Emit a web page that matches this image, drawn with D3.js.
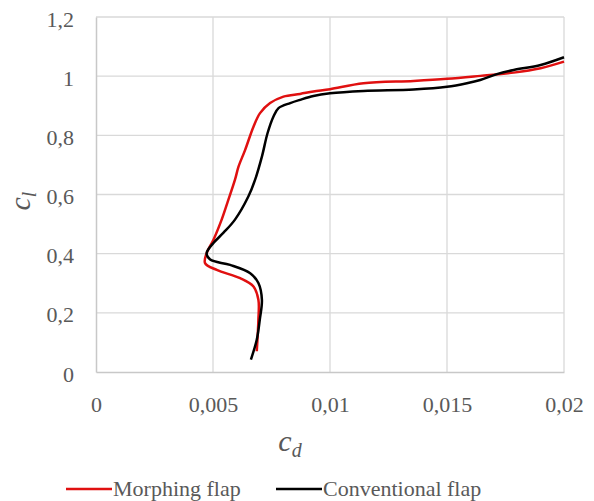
<!DOCTYPE html>
<html>
<head>
<meta charset="utf-8">
<script src="https://cdn.jsdelivr.net/npm/d3@7"></script>
<style>
    body { margin: 0; background: #fff; }
    svg { display: block; }
</style>
</head>
<body>
<svg id="Chart"></svg>
<script>
    // values, [cd, cl] along each polar
    let morphingFlap = [
        [0.00687, 0.070], [0.00694, 0.177], [0.00694, 0.244], [0.00673, 0.289],
        [0.00616, 0.317], [0.00516, 0.345], [0.00466, 0.368], [0.00473, 0.402],
        [0.00502, 0.447], [0.00537, 0.515], [0.00561, 0.571], [0.00594, 0.650],
        [0.00609, 0.694], [0.00637, 0.750], [0.00673, 0.829], [0.00701, 0.875],
        [0.00744, 0.909], [0.00801, 0.931], [0.00872, 0.940], [0.00929, 0.948],
        [0.01000, 0.956], [0.01143, 0.976], [0.01357, 0.984], [0.01500, 0.991],
        [0.01642, 1.001], [0.01785, 1.012], [0.01900, 1.027], [0.02000, 1.049]
    ];
    let conventionalFlap = [
        [0.00662, 0.042], [0.00687, 0.109], [0.00700, 0.177], [0.00709, 0.244],
        [0.00694, 0.301], [0.00659, 0.334], [0.00573, 0.362], [0.00488, 0.380],
        [0.00473, 0.402], [0.00502, 0.436], [0.00544, 0.470], [0.00594, 0.515],
        [0.00651, 0.593], [0.00680, 0.650], [0.00709, 0.728], [0.00733, 0.807],
        [0.00758, 0.863], [0.00780, 0.892], [0.00830, 0.909], [0.00872, 0.920],
        [0.00929, 0.933], [0.01000, 0.942], [0.01143, 0.950], [0.01357, 0.955],
        [0.01500, 0.964], [0.01585, 0.976], [0.01642, 0.987], [0.01713, 1.007],
        [0.01785, 1.021], [0.01900, 1.038], [0.02000, 1.064]
    ];
    let seriesNames = ["Morphing flap", "Conventional flap"];
    let seriesColors = ["#e01010", "#000000"];
    let xTicks = [0, 0.005, 0.01, 0.015, 0.02];
    let yTicks = [0, 0.2, 0.4, 0.6, 0.8, 1, 1.2];

    function getConfig() {
        let width = 594;
        let height = 501;
        let margin = { top: 17, left: 96, right: 30, bottom: 129 };
        let bodyWidth = width - margin.left - margin.right;
        let bodyHeight = height - margin.top - margin.bottom;
        let container = d3.select("#Chart")
            .attr("width", width)
            .attr("height", height);
        return { width, height, margin, bodyWidth, bodyHeight, container };
    }

    function getScales(config) {
        let xScale = d3.scaleLinear().domain([0, 0.02]).range([0, config.bodyWidth]);
        let yScale = d3.scaleLinear().domain([0, 1.2]).range([config.bodyHeight, 0]);
        return { xScale, yScale };
    }

    // decimal comma like the original
    let fmt = d => String(d).replace(".", ",");
    let serif = "Liberation Serif";

    function drawGrid(scales, config) {
        let { xScale, yScale } = scales;
        let { margin, container, bodyWidth, bodyHeight } = config;
        let body = container.append("g")
            .attr("transform", `translate(${margin.left},${margin.top})`);

        body.selectAll(".vgrid").data(xTicks.slice(1)).enter()
            .append("line")
            .attr("x1", d => xScale(d)).attr("x2", d => xScale(d))
            .attr("y1", 0).attr("y2", bodyHeight)
            .attr("stroke", "#d9d9d9").attr("stroke-width", 1.3);
        body.selectAll(".hgrid").data(yTicks.slice(1)).enter()
            .append("line")
            .attr("x1", 0).attr("x2", bodyWidth)
            .attr("y1", d => yScale(d)).attr("y2", d => yScale(d))
            .attr("stroke", "#d9d9d9").attr("stroke-width", 1.3);

        let axisX = d3.axisBottom(xScale).tickValues(xTicks).tickFormat(fmt).tickSize(0).tickPadding(24);
        let gx = container.append("g")
            .attr("transform", `translate(${margin.left},${margin.top + bodyHeight})`)
            .call(axisX);
        let axisY = d3.axisLeft(yScale).tickValues(yTicks).tickFormat(fmt).tickSize(0).tickPadding(22);
        let gy = container.append("g")
            .attr("transform", `translate(${margin.left},${margin.top + 2})`)
            .call(axisY);
        gy.select(".domain").attr("transform", "translate(0,-2)");

        [gx, gy].forEach(g => {
            g.attr("font-family", serif).attr("font-size", 22);
            g.select(".domain").attr("stroke", "#c8c8c8").attr("stroke-width", 1.5);
            g.selectAll("text").attr("fill", "#595959");
        });
        return body;
    }

    function drawLines(body, scales) {
        let { xScale, yScale } = scales;
        let line = d3.line()
            .x(d => xScale(d[0]))
            .y(d => yScale(d[1]))
            .curve(d3.curveCatmullRom.alpha(0.5));
        [morphingFlap, conventionalFlap].forEach((data, i) => {
            body.append("path")
                .datum(data)
                .attr("d", line)
                .attr("fill", "none")
                .attr("stroke", seriesColors[i])
                .attr("stroke-width", 2.5)
                .attr("stroke-linejoin", "round");
        });
    }

    function drawLabels(config) {
        let { container } = config;

        let yl = container.append("text")
            .attr("transform", "translate(30,201) rotate(-90)")
            .attr("text-anchor", "middle")
            .attr("fill", "#595959")
            .attr("font-family", serif)
            .attr("font-style", "italic")
            .attr("font-size", 30);
        yl.append("tspan").text("c");
        yl.append("tspan").attr("dy", 6).attr("font-size", 20).text("l");

        let xl = container.append("text")
            .attr("x", 290).attr("y", 451)
            .attr("text-anchor", "middle")
            .attr("fill", "#595959")
            .attr("font-family", serif)
            .attr("font-style", "italic")
            .attr("font-size", 30);
        xl.append("tspan").text("c");
        xl.append("tspan").attr("dy", 6).attr("font-size", 20).text("d");

        let legendX = [66, 276];
        let legend = container.selectAll(".legend").data(seriesNames).enter()
            .append("g")
            .attr("transform", (d, i) => `translate(${legendX[i]},489)`);
        legend.append("line")
            .attr("x1", 0).attr("x2", 46)
            .attr("stroke", (d, i) => seriesColors[i])
            .attr("stroke-width", 2.5);
        legend.append("text")
            .attr("x", 47).attr("y", 7)
            .attr("fill", "#595959")
            .attr("font-family", serif)
            .attr("font-size", 22)
            .text(d => d);
    }

    let config = getConfig();
    let scales = getScales(config);
    let body = drawGrid(scales, config);
    drawLines(body, scales);
    drawLabels(config);
</script>
</body>
</html>
